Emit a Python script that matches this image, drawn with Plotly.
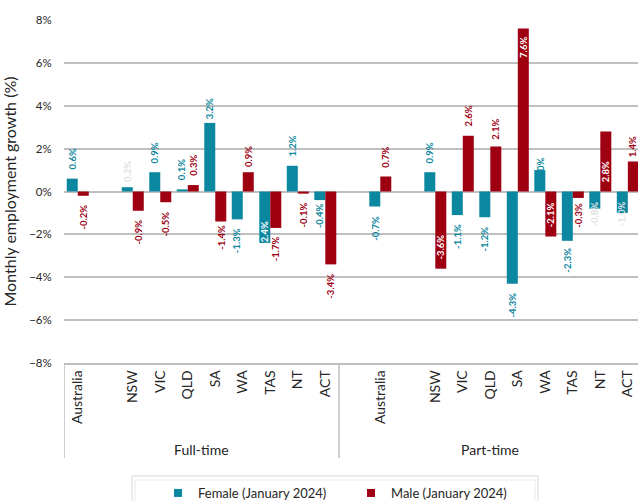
import plotly.graph_objects as go

# Monthly employment growth, January 2024 (%)
regions = ["Australia", "NSW", "VIC", "QLD", "SA", "WA", "TAS", "NT", "ACT"]
groups = ["Full-time", "Part-time"]

ft_female = [0.6, 0.2, 0.9, 0.1, 3.2, -1.3, -2.4, 1.2, -0.4]
ft_male = [-0.2, -0.9, -0.5, 0.3, -1.4, 0.9, -1.7, -0.1, -3.4]
pt_female = [-0.7, 0.9, -1.1, -1.2, -4.3, 1.0, -2.3, -0.8, -1.0]
pt_male = [0.7, -3.6, 2.6, 2.1, 7.6, -2.1, -0.3, 2.8, 1.4]

series_names = ["Female (January 2024)", "Male (January 2024)"]

# ---- styling ---------------------------------------------------------------
TEAL = "#0C87A0"
RED = "#9E0012"
GRID = "#BFBFBF"
TEXT = "#262626"
WHITE = "#FFFFFF"
FAINT = "#E2E2E2"
FONT = "Lato, 'Open Sans', sans-serif"

# slot positions on the category axis (a spacer after Australia in each block,
# and a spacer at the start of the part-time block)
ft_pos = [0, 2, 3, 4, 5, 6, 7, 8, 9]
pt_pos = [11, 13, 14, 15, 16, 17, 18, 19, 20]
group_divider = 9.5
BAR_HALF = 0.2  # offset of each bar from its slot centre (bargap 0.2, two bars)

# value-label placement: ("out", gap px) beyond the bar end,
# or ("mid", px of label centre beyond the bar end; negative = inside)
DEFAULT_LABEL = ("out", 7)
label_place = {
    ("Full-time", "NSW", 0): ("out", 3),
    ("Full-time", "SA", 0): ("out", 2),
    ("Full-time", "SA", 1): ("out", 1),
    ("Full-time", "WA", 1): ("out", 3),
    ("Full-time", "TAS", 0): ("mid", -10),
    ("Full-time", "TAS", 1): ("out", 6),
    ("Full-time", "ACT", 0): ("out", 1),
    ("Part-time", "NSW", 1): ("mid", -22),
    ("Part-time", "QLD", 1): ("out", 5),
    ("Part-time", "SA", 1): ("mid", -19),
    ("Part-time", "WA", 0): ("mid", 2),
    ("Part-time", "WA", 1): ("mid", -22),
    ("Part-time", "TAS", 0): ("out", 5),
    ("Part-time", "TAS", 1): ("out", 3),
    ("Part-time", "NT", 0): ("mid", 5),
    ("Part-time", "NT", 1): ("mid", -40),
    ("Part-time", "ACT", 0): ("mid", 1),
    ("Part-time", "ACT", 1): ("out", 2),
}
label_color = {
    ("Full-time", "NSW", 0): FAINT,
    ("Full-time", "TAS", 0): WHITE,
    ("Part-time", "NSW", 1): WHITE,
    ("Part-time", "SA", 1): WHITE,
    ("Part-time", "WA", 1): WHITE,
    ("Part-time", "NT", 0): FAINT,
    ("Part-time", "NT", 1): WHITE,
    ("Part-time", "ACT", 0): FAINT,
}

fig = go.Figure()

data = {
    "Full-time": (ft_pos, [ft_female, ft_male]),
    "Part-time": (pt_pos, [pt_female, pt_male]),
}
colors = [TEAL, RED]

for s, name in enumerate(series_names):
    xs, ys = [], []
    for g in groups:
        pos, vals = data[g]
        xs += pos
        ys += vals[s]
    fig.add_trace(go.Bar(
        x=xs, y=ys, name=name, marker=dict(color=colors[s], line=dict(width=0)),
        showlegend=False, offsetgroup=str(s),
    ))
    # legend entries drawn as small square markers
    fig.add_trace(go.Scatter(
        x=[None], y=[None], mode="markers", name=name,
        marker=dict(symbol="square", size=8, color=colors[s]),
    ))

annotations = []
for g in groups:
    pos, vals = data[g]
    for s in range(2):
        for i, region in enumerate(regions):
            v = vals[s][i]
            key = (g, region, s)
            mode, off = label_place.get(key, DEFAULT_LABEL)
            col = label_color.get(key, colors[s])
            sign = 1 if v >= 0 else -1
            x = pos[i] + (BAR_HALF if s == 1 else -BAR_HALF)
            if mode == "out":
                yanchor = "bottom" if sign > 0 else "top"
            else:
                yanchor = "middle"
            annotations.append(dict(
                x=x, y=v, xref="x", yref="y", text=f"{v:.1f}%",
                textangle=-90, showarrow=False, xanchor="center",
                yanchor=yanchor, yshift=off * sign,
                font=dict(family=FONT, size=9.5, color=col, weight="bold"),
            ))

# group captions under the category labels
group_centres = {"Full-time": (-0.5 + group_divider) / 2,
                 "Part-time": (group_divider + 20.5) / 2}
for g in groups:
    annotations.append(dict(
        x=group_centres[g], y=-0.251, xref="x", yref="paper", text=g,
        showarrow=False, xanchor="center", yanchor="middle",
        font=dict(family=FONT, size=14, color=TEXT),
    ))

shapes = []
# separators of the multi-level category axis
for xv in (-0.5, group_divider):
    shapes.append(dict(type="line", xref="x", yref="paper", x0=xv, x1=xv,
                       y0=0, y1=-0.277, line=dict(color=GRID, width=1.5)))
# legend frame
shapes.append(dict(type="rect", xref="paper", yref="paper",
                   x0=(132 - 64) / 574, x1=(538 - 64) / 574,
                   y0=-0.45, y1=(363 - 476) / 343,
                   line=dict(color="#D9D9D9", width=1)))
shapes.append(dict(type="rect", xref="paper", yref="paper",
                   x0=(135 - 64) / 574, x1=(535 - 64) / 574,
                   y0=-0.45, y1=(363 - 480) / 343,
                   line=dict(color="#EBEBEB", width=1)))

tick_vals = ft_pos + pt_pos
tick_text = regions + regions

fig.update_layout(
    width=638, height=501,
    margin=dict(l=64, r=0, t=20, b=138, autoexpand=False),
    paper_bgcolor="white", plot_bgcolor="white",
    barmode="group", bargap=0.2, bargroupgap=0,
    font=dict(family=FONT, color=TEXT),
    annotations=annotations, shapes=shapes,
    legend=dict(
        orientation="h", x=(158 - 64) / 574, xanchor="left",
        y=(363 - 493) / 343, yanchor="middle",
        font=dict(family=FONT, size=13, color=TEXT),
        bgcolor="rgba(0,0,0,0)", itemwidth=30,
        entrywidth=148, entrywidthmode="pixels",
    ),
    xaxis=dict(
        range=[-0.5, 20.37], tickmode="array", tickvals=tick_vals,
        ticktext=tick_text, tickangle=-90, showgrid=False, zeroline=False,
        showline=True, linecolor=GRID, linewidth=1.5, ticks="",
        tickfont=dict(family=FONT, size=14, color=TEXT), automargin=False,
        fixedrange=True,
    ),
    yaxis=dict(
        range=[-8, 8], dtick=2, ticksuffix="%", showgrid=True,
        gridcolor=GRID, gridwidth=1.5, zeroline=True, zerolinecolor=GRID,
        zerolinewidth=1.5, showline=False, ticks="outside", ticklen=9,
        tickcolor="rgba(0,0,0,0)",
        tickfont=dict(family=FONT, size=11.5, color=TEXT),
        title=dict(text="Monthly employment growth (%)", standoff=8,
                   font=dict(family=FONT, size=16, color=TEXT)),
        automargin=False, fixedrange=True,
    ),
)

fig.write_html("out.html")
